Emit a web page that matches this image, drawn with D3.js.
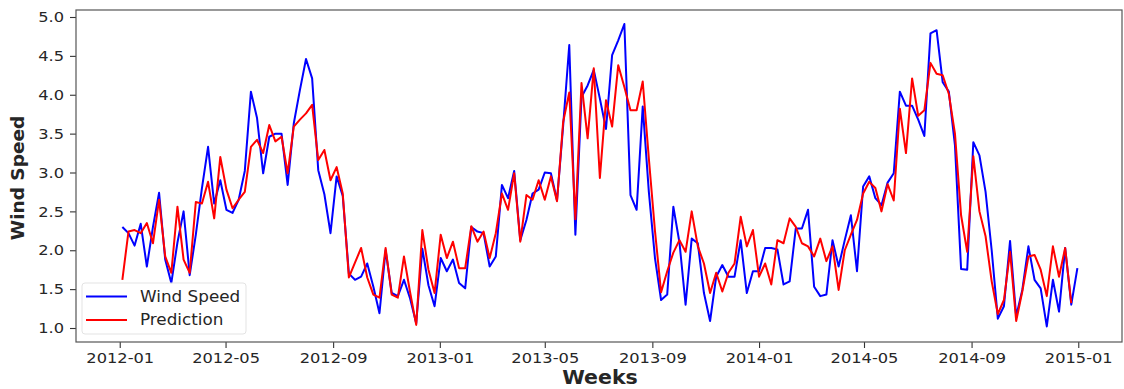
<!DOCTYPE html>
<html>
<head>
<meta charset="utf-8">
<script src="https://cdn.jsdelivr.net/npm/d3@7"></script>
<style>
  html, body { margin: 0; padding: 0; background: #fff; }
  svg { display: block; }
  text { font-family: "DejaVu Sans", sans-serif; fill: #262626; }
</style>
</head>
<body>
<svg id="chart" width="1124" height="389"></svg>
<script>
// Weekly observed wind speed, starting the first week of 2012
const startDate = "2012-01-04";
const windSpeed = [
  2.30, 2.22, 2.06, 2.34, 1.79, 2.30, 2.74, 1.88, 1.58, 2.10,
  2.50, 1.68, 2.20, 2.80, 3.33, 2.60, 2.90, 2.52, 2.48, 2.65,
  3.02, 4.04, 3.70, 2.99, 3.46, 3.50, 3.50, 2.84, 3.63, 4.06,
  4.46, 4.21, 3.03, 2.72, 2.22, 2.95, 2.70, 1.70, 1.62, 1.66,
  1.83, 1.53, 1.19, 2.00, 1.45, 1.41, 1.62, 1.38, 1.06, 2.02,
  1.55, 1.28, 1.90, 1.73, 1.88, 1.58, 1.51, 2.30, 2.24, 2.22,
  1.79, 1.92, 2.84, 2.67, 3.02, 2.13, 2.39, 2.73, 2.78, 3.00,
  2.99, 2.64, 3.60, 4.64, 2.20, 3.97, 4.12, 4.32, 3.95, 3.56,
  4.51, 4.70, 4.91, 2.71, 2.52, 3.85, 2.75, 1.90, 1.36, 1.43,
  2.56, 2.10, 1.30, 2.15, 2.09, 1.45, 1.09, 1.66, 1.81, 1.66,
  1.66, 2.13, 1.45, 1.73, 1.73, 2.03, 2.03, 2.01, 1.56, 1.60,
  2.28, 2.28, 2.52, 1.53, 1.41, 1.43, 2.13, 1.79, 2.13, 2.45,
  1.73, 2.82, 2.95, 2.67, 2.58, 2.87, 2.99, 4.04, 3.86, 3.86,
  3.68, 3.47, 4.79, 4.83, 4.16, 4.04, 3.35, 1.76, 1.75, 3.39,
  3.22, 2.75, 2.00, 1.12, 1.28, 2.12, 1.15, 1.49, 2.05, 1.62,
  1.51, 1.02, 1.62, 1.21, 2.03, 1.30, 1.77
];

// Model prediction for the same weeks
const prediction = [
  1.62, 2.24, 2.26, 2.22, 2.35, 2.09, 2.65, 1.92, 1.71, 2.56,
  1.88, 1.71, 2.62, 2.60, 2.88, 2.41, 3.20, 2.78, 2.54, 2.65,
  2.75, 3.33, 3.42, 3.25, 3.61, 3.40, 3.46, 2.99, 3.59, 3.68,
  3.76, 3.87, 3.16, 3.29, 2.90, 3.07, 2.73, 1.65, 1.84, 2.03,
  1.65, 1.43, 1.39, 2.03, 1.43, 1.39, 1.92, 1.46, 1.04, 2.26,
  1.75, 1.45, 2.20, 1.90, 2.11, 1.77, 1.77, 2.31, 2.11, 2.24,
  1.90, 2.22, 2.73, 2.52, 2.99, 2.11, 2.71, 2.65, 2.90, 2.65,
  2.95, 2.63, 3.65, 4.03, 2.40, 4.15, 3.44, 4.34, 2.93, 3.93,
  3.59, 4.38, 4.10, 3.80, 3.80, 4.17, 3.18, 2.25, 1.46, 1.73,
  1.97, 2.13, 1.98, 2.50, 2.05, 1.83, 1.45, 1.71, 1.47, 1.71,
  1.83, 2.43, 2.05, 2.26, 1.66, 1.83, 1.56, 2.13, 2.09, 2.41,
  2.30, 2.09, 2.05, 1.92, 2.15, 1.86, 2.05, 1.49, 2.00, 2.20,
  2.39, 2.73, 2.88, 2.80, 2.50, 2.85, 2.64, 3.82, 3.25, 4.21,
  3.73, 3.80, 4.41, 4.27, 4.25, 4.01, 3.50, 2.45, 1.98, 3.21,
  2.50, 2.18, 1.60, 1.18, 1.36, 1.98, 1.09, 1.47, 1.92, 1.94,
  1.75, 1.41, 2.05, 1.66, 2.03, 1.32
];

const xTickLabels = ["2012-01", "2012-05", "2012-09", "2013-01", "2013-05",
                     "2013-09", "2014-01", "2014-05", "2014-09", "2015-01"];
const yTickValues = [1.0, 1.5, 2.0, 2.5, 3.0, 3.5, 4.0, 4.5, 5.0];
const seriesNames = ["Wind Speed", "Prediction"];
const seriesColors = ["#0000ff", "#ff0000"];

// ---- layout ----
const plot = { left: 76, right: 1122, top: 10, bottom: 342 };
const svg = d3.select("#chart");

const parseDay = d3.utcParse("%Y-%m-%d");
const parseMonth = d3.utcParse("%Y-%m");
const start = parseDay(startDate);
const weekDate = i => d3.utcDay.offset(start, 7 * i);

const x = d3.scaleUtc()
  .domain([Date.UTC(2011, 10, 12), Date.UTC(2015, 1, 20)])
  .range([plot.left, plot.right]);
const y = d3.scaleLinear()
  .domain([0.82, 5.09])
  .range([plot.bottom, plot.top]);

// glyphs are drawn a little wider than tall
function widen(sel, k) {
  sel.each(function () {
    const w = this.getComputedTextLength();
    d3.select(this).attr("textLength", w * k).attr("lengthAdjust", "spacingAndGlyphs");
  });
}

// ---- lines ----
svg.append("clipPath").attr("id", "plotclip")
  .append("rect")
  .attr("x", plot.left).attr("y", plot.top)
  .attr("width", plot.right - plot.left).attr("height", plot.bottom - plot.top);

const line = d3.line()
  .x((d, i) => x(weekDate(i)))
  .y(d => y(d));

const gLines = svg.append("g").attr("clip-path", "url(#plotclip)");
[windSpeed, prediction].forEach((series, k) => {
  gLines.append("path")
    .datum(series)
    .attr("d", line)
    .attr("fill", "none")
    .attr("stroke", seriesColors[k])
    .attr("stroke-width", 2)
    .attr("stroke-linejoin", "round");
});

// ---- axes ----
const xAxis = d3.axisBottom(x)
  .tickValues(xTickLabels.map(parseMonth))
  .tickFormat(d3.utcFormat("%Y-%m"))
  .tickSizeInner(6).tickSizeOuter(0).tickPadding(5);
const gx = svg.append("g")
  .attr("transform", `translate(0,${plot.bottom})`)
  .call(xAxis);
gx.select(".domain").remove();
gx.selectAll(".tick line").attr("stroke", "#333").attr("stroke-width", 1.1);
gx.selectAll(".tick text")
  .attr("font-size", 14.5).attr("fill", "#262626")
  .style("font-family", "DejaVu Sans")
  .call(widen, 1.12);

const yAxis = d3.axisLeft(y)
  .tickValues(yTickValues)
  .tickFormat(d3.format(".1f"))
  .tickSizeInner(6).tickSizeOuter(0).tickPadding(6);
const gy = svg.append("g")
  .attr("transform", `translate(${plot.left},0)`)
  .call(yAxis);
gy.select(".domain").remove();
gy.selectAll(".tick line").attr("stroke", "#333").attr("stroke-width", 1.1);
gy.selectAll(".tick text")
  .attr("font-size", 14.5).attr("fill", "#262626")
  .style("font-family", "DejaVu Sans")
  .call(widen, 1.12);

// frame around the plotting area
svg.append("rect")
  .attr("x", plot.left).attr("y", plot.top)
  .attr("width", plot.right - plot.left).attr("height", plot.bottom - plot.top)
  .attr("fill", "none").attr("stroke", "#555").attr("stroke-width", 1.2);

// axis titles
svg.append("text")
  .attr("x", 600).attr("y", 384)
  .attr("text-anchor", "middle")
  .attr("font-size", 19).attr("font-weight", "bold").attr("fill", "#000")
  .text("Weeks")
  .call(widen, 1.08);

svg.append("text")
  .attr("transform", "translate(24,178) rotate(-90)")
  .attr("text-anchor", "middle")
  .attr("font-size", 18.5).attr("font-weight", "bold").attr("fill", "#000")
  .text("Wind Speed");

// ---- legend ----
const legend = svg.append("g");
legend.append("rect")
  .attr("x", 82).attr("y", 283).attr("width", 164).attr("height", 51)
  .attr("rx", 3)
  .attr("fill", "#fff").attr("fill-opacity", 0.85)
  .attr("stroke", "#e3e3e3").attr("stroke-width", 1);
seriesNames.forEach((name, k) => {
  const ly = 296.5 + k * 23.5;
  legend.append("line")
    .attr("x1", 86).attr("x2", 127).attr("y1", ly).attr("y2", ly)
    .attr("stroke", seriesColors[k]).attr("stroke-width", 2);
  legend.append("text")
    .attr("x", 140).attr("y", ly + 5)
    .attr("font-size", 15).attr("fill", "#262626")
    .text(name)
    .call(widen, 1.12);
});
</script>
</body>
</html>
